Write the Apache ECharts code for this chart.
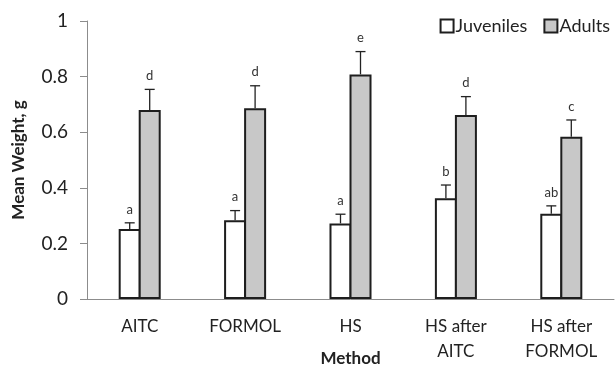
<!DOCTYPE html>
<html><head><meta charset="utf-8">
<script src="https://cdn.jsdelivr.net/npm/echarts@6/dist/echarts.min.js"></script>
<style>html,body{margin:0;padding:0;background:#fff}#c{width:615px;height:367px}</style>
</head><body><div id="c"></div>
<script>
const categories = ['AITC', 'FORMOL', 'HS', 'HS after\nAITC', 'HS after\nFORMOL'];
const juvenileMean = [0.252, 0.283, 0.272, 0.362, 0.307];
const juvenileUpper = [0.274, 0.318, 0.305, 0.410, 0.335];
const juvenileLetters = ['a', 'a', 'a', 'b', 'ab'];
const adultMean = [0.680, 0.686, 0.808, 0.662, 0.584];
const adultUpper = [0.754, 0.767, 0.890, 0.728, 0.644];
const adultLetters = ['d', 'd', 'e', 'd', 'c'];
const yTicks = [0, 0.2, 0.4, 0.6, 0.8, 1];

const FONT = 'Lato';
const BAR_W = 22;

function errSeries(means, uppers, letters, offset) {
  return {
    type: 'custom',
    z: 5,
    data: means.map((m, i) => [i, m, uppers[i]]),
    renderItem: function (params, api) {
      const i = api.value(0);
      const p0 = api.coord([i, api.value(1)]);
      const p1 = api.coord([i, api.value(2)]);
      const x = p0[0] + offset;
      const cap = 5;
      return {
        type: 'group',
        children: [
          { type: 'line', shape: { x1: x, y1: p0[1], x2: x, y2: p1[1] }, style: { stroke: '#222', lineWidth: 1.3 } },
          { type: 'line', shape: { x1: x - cap, y1: p1[1], x2: x + cap, y2: p1[1] }, style: { stroke: '#222', lineWidth: 1.3 } },
          { type: 'text', style: { text: letters[params.dataIndex], x: x, y: p1[1] - 7, align: 'center', verticalAlign: 'bottom', font: '13px ' + FONT, fill: '#333' } }
        ]
      };
    }
  };
}

const chart = echarts.init(document.getElementById('c'), null, { renderer: 'canvas' });
chart.setOption({
  animation: false,
  textStyle: { fontFamily: FONT },
  grid: { left: 87, right: 1, top: 21, bottom: 68, containLabel: false, outerBoundsMode: 'none' },
  legend: {
    top: 12, right: 0,
    itemWidth: 13, itemHeight: 13, itemGap: 16,
    icon: 'rect',
    textStyle: { fontSize: 18, color: '#222', fontFamily: FONT, padding: [0, 0, 0, -3] },
    data: ['Juveniles', 'Adults']
  },
  xAxis: {
    type: 'category',
    data: categories,
    name: 'Method',
    nameLocation: 'middle',
    nameGap: 51,
    nameMoveOverlap: false,
    nameTextStyle: { fontSize: 17, fontWeight: 'bold', color: '#222', fontFamily: FONT },
    axisLine: { lineStyle: { color: '#8c8c8c', width: 1 } },
    axisTick: { show: false },
    axisLabel: { fontSize: 17, color: '#222', lineHeight: 25, margin: 15, fontFamily: FONT, interval: 0 }
  },
  yAxis: {
    type: 'value',
    min: 0, max: 1, interval: 0.2,
    name: 'Mean Weight, g',
    nameLocation: 'middle',
    nameGap: 60,
    nameMoveOverlap: false,
    nameTextStyle: { fontSize: 17, fontWeight: 'bold', color: '#222', fontFamily: FONT },
    axisLine: { show: true, lineStyle: { color: '#8c8c8c', width: 1 } },
    axisTick: { show: true, length: 7, lineStyle: { color: '#8c8c8c' } },
    splitLine: { show: false },
    axisLabel: { fontSize: 19, color: '#222', margin: 19, fontFamily: FONT,
      formatter: v => { const t = yTicks.find(k => Math.abs(k - v) < 1e-9); return String(t !== undefined ? t : v); } }
  },
  series: [
    { name: 'Juveniles', type: 'bar', data: juvenileMean, barWidth: BAR_W, barGap: '-9%',
      itemStyle: { color: '#ffffff', borderColor: '#1e1e1e', borderWidth: 2 } },
    { name: 'Adults', type: 'bar', data: adultMean, barWidth: BAR_W, barGap: '-9%',
      itemStyle: { color: '#c8c8c8', borderColor: '#1e1e1e', borderWidth: 2 } },
    errSeries(juvenileMean, juvenileUpper, juvenileLetters, -BAR_W / 2 + 1),
    errSeries(adultMean, adultUpper, adultLetters, BAR_W / 2 - 1)
  ]
});
</script></body></html>
